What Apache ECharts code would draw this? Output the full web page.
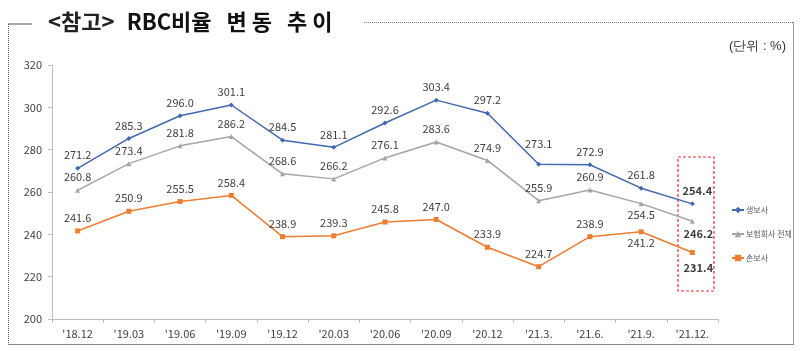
<!DOCTYPE html>
<html>
<head>
<meta charset="utf-8">
<script src="https://cdn.jsdelivr.net/npm/echarts@6/dist/echarts.min.js"></script>
<style>
  html, body { margin: 0; padding: 0; background: #fff; }
  #chart { width: 800px; height: 351px; }
</style>
</head>
<body>
<div id="chart"></div>
<script>
const categories = ["'18.12", "'19.03", "'19.06", "'19.09", "'19.12", "'20.03", "'20.06", "'20.09", "'20.12", "'21.3.", "'21.6.", "'21.9.", "'21.12."]
const lifeIns = [271.2, 285.3, 296.0, 301.1, 284.5, 281.1, 292.6, 303.4, 297.2, 273.1, 272.9, 261.8, 254.4]
const allIns = [260.8, 273.4, 281.8, 286.2, 268.6, 266.2, 276.1, 283.6, 274.9, 255.9, 260.9, 254.5, 246.2]
const nonLifeIns = [241.6, 250.9, 255.5, 258.4, 238.9, 239.3, 245.8, 247.0, 233.9, 224.7, 238.9, 241.2, 231.4]

const font = "'Noto Sans CJK KR', 'Noto Sans', sans-serif"
const last = categories.length - 1

// 일부 라벨 위치만 따로 조정
const labelTweaks = {
  life: { 9: { distance: 12 }, [last]: { position: 'top', fontWeight: 'bold', offset: [5, 0] } },
  all: { 11: { position: 'bottom', offset: [0, -2] }, [last]: { position: 'bottom', fontWeight: 'bold', offset: [6, 0] } },
  nonLife: { 11: { position: 'bottom', offset: [0, -2] }, [last]: { position: 'bottom', fontWeight: 'bold', distance: 7, offset: [6, 0] } }
}

function toData (values, tweaks) {
  return values.map((v, i) => tweaks[i] ? { value: v, label: tweaks[i] } : v)
}

function makeSeries (name, values, tweaks, color, symbol) {
  return {
    name: name,
    type: 'line',
    data: toData(values, tweaks),
    symbol: symbol,
    symbolSize: 5,
    lineStyle: { color: color, width: 1.5 },
    itemStyle: { color: color },
    label: {
      show: true,
      position: 'top',
      color: '#404040',
      fontSize: 11,
      fontFamily: font,
      formatter: (p) => p.value.toFixed(1)
    },
    emphasis: { disabled: true },
    animation: false
  }
}

const chart = echarts.init(document.getElementById('chart'))

chart.setOption({
  backgroundColor: '#fff',
  textStyle: { fontFamily: font },
  title: {
    text: '{a|<참고>}   {b|RBC비율   변 동   추 이}',
    left: 43,
    top: 6,
    textStyle: {
      rich: {
        a: { fontSize: 22, color: '#222', fontFamily: font },
        b: { fontSize: 22, fontWeight: 'bold', color: '#111', fontFamily: font }
      }
    }
  },
  legend: {
    orient: 'vertical',
    left: 726,
    top: 201,
    itemGap: 16,
    itemWidth: 12,
    itemHeight: 8,
    textStyle: { fontSize: 8, color: '#595959', fontFamily: font, padding: [0, 0, 0, -3] },
    data: ['생보사', '보험회사 전체', '손보사']
  },
  grid: { left: 52, right: 82, top: 65, bottom: 32 },
  xAxis: {
    type: 'category',
    data: categories,
    boundaryGap: true,
    axisLine: { lineStyle: { color: '#bfbfbf' } },
    axisTick: { show: true, length: 4, lineStyle: { color: '#bfbfbf' } },
    axisLabel: { color: '#404040', fontSize: 11, margin: 9, fontFamily: font }
  },
  yAxis: {
    type: 'value',
    min: 200,
    max: 320,
    interval: 20,
    splitLine: { show: false },
    axisLine: { show: true, lineStyle: { color: '#bfbfbf' } },
    axisTick: { show: true, length: 4, lineStyle: { color: '#bfbfbf' } },
    axisLabel: { color: '#404040', fontSize: 11, margin: 10, fontFamily: font }
  },
  series: [
    makeSeries('생보사', lifeIns, labelTweaks.life, '#4169b0', 'diamond'),
    makeSeries('보험회사 전체', allIns, labelTweaks.all, '#a5a5a5', 'triangle'),
    makeSeries('손보사', nonLifeIns, labelTweaks.nonLife, '#ed7d31', 'rect')
  ],
  graphic: [
    { type: 'line', shape: { x1: 8, y1: 24, x2: 32, y2: 24 }, style: { stroke: '#555', lineWidth: 1 } },
    { type: 'line', shape: { x1: 8.5, y1: 24, x2: 8.5, y2: 344 }, style: { stroke: '#555', lineWidth: 1, lineDash: [1, 1] } },
    { type: 'line', shape: { x1: 364, y1: 22.5, x2: 793, y2: 22.5 }, style: { stroke: '#777', lineWidth: 1, lineDash: [1, 1] } },
    { type: 'line', shape: { x1: 793.5, y1: 22, x2: 793.5, y2: 344 }, style: { stroke: '#999', lineWidth: 1 } },
    { type: 'line', shape: { x1: 8, y1: 344.5, x2: 794, y2: 344.5 }, style: { stroke: '#888', lineWidth: 1 } },
    { type: 'rect', shape: { x: 678, y: 157, width: 36, height: 134 }, style: { fill: 'none', stroke: '#e0303c', lineWidth: 1.2, lineDash: [3, 2] } },
    { type: 'text', right: 14, top: 40, style: { text: '(단위 : %)', fontSize: 13, fill: '#333', font: '13px ' + font } }
  ]
})
</script>
